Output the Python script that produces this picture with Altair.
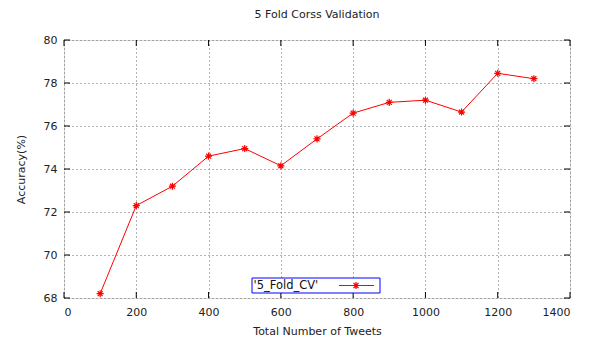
import altair as alt
import pandas as pd

tweets = [100, 200, 300, 400, 500, 600, 700, 800, 900, 1000, 1100, 1200, 1300]
accuracy = [68.2, 72.3, 73.2, 74.6, 74.95, 74.15, 75.4, 76.6, 77.1, 77.2, 76.65, 78.45, 78.2]
x_ticks = [0, 200, 400, 600, 800, 1000, 1200, 1400]
y_ticks = [68, 70, 72, 74, 76, 78, 80]
series_name = "'5_Fold_CV'"

W, H = 506, 258
FONT = "DejaVu Sans"
RED = "#ff0000"
STAR = "M-1,0L1,0M0,-1L0,1M-0.7,-0.7L0.7,0.7M-0.7,0.7L0.7,-0.7"

df = pd.DataFrame({"tweets": tweets, "acc": accuracy})
xt = pd.DataFrame({"v": x_ticks})
yt = pd.DataFrame({"v": y_ticks})

xs = alt.Scale(domain=[0, 1400], nice=False, zero=False)
ys = alt.Scale(domain=[68, 80], nice=False, zero=False)

xaxis = alt.Axis(values=x_ticks, format="d", grid=True, gridDash=[1, 3], gridColor="#666666",
                 gridOpacity=1, ticks=False, domain=False, labelFont=FONT, labelFontSize=11,
                 labelColor="#222222", labelPadding=8, title="Total Number of Tweets",
                 titleFont=FONT, titleFontSize=11, titleFontWeight="normal",
                 titleColor="#222222", titlePadding=8)
yaxis = alt.Axis(values=y_ticks, format="d", grid=True, gridDash=[1, 3], gridColor="#666666",
                 gridOpacity=1, ticks=False, domain=False, labelFont=FONT, labelFontSize=11,
                 labelColor="#222222", labelPadding=7, title="Accuracy(%)",
                 titleFont=FONT, titleFontSize=11, titleFontWeight="normal",
                 titleColor="#222222", titlePadding=17)

line = alt.Chart(df).mark_line(color=RED, strokeWidth=1).encode(
    x=alt.X("tweets:Q", scale=xs, axis=xaxis),
    y=alt.Y("acc:Q", scale=ys, axis=yaxis),
)
pts = alt.Chart(df).mark_point(shape=STAR, color=RED, size=50, strokeWidth=1.2, filled=False,
                               opacity=1).encode(
    x=alt.X("tweets:Q", scale=xs),
    y=alt.Y("acc:Q", scale=ys),
)

TL = 6
tick_bottom = alt.Chart(xt).mark_rule(color="black").encode(
    x=alt.X("v:Q", scale=xs), y=alt.value(H), y2=alt.value(H - TL))
tick_top = alt.Chart(xt).mark_rule(color="black").encode(
    x=alt.X("v:Q", scale=xs), y=alt.value(0), y2=alt.value(TL))
tick_left = alt.Chart(yt).mark_rule(color="black").encode(
    y=alt.Y("v:Q", scale=ys), x=alt.value(0), x2=alt.value(TL))
tick_right = alt.Chart(yt).mark_rule(color="black").encode(
    y=alt.Y("v:Q", scale=ys), x=alt.value(W), x2=alt.value(W - TL))

leg_df = pd.DataFrame({"name": [series_name]})
leg_box = alt.Chart(leg_df).mark_rect(fill="white", stroke="#0000ff", strokeWidth=1).encode(
    x=alt.value(188), x2=alt.value(316), y=alt.value(238), y2=alt.value(253))
leg_text = alt.Chart(leg_df).mark_text(align="left", baseline="middle", font=FONT,
                                       fontSize=11.5, color="#111111").encode(
    x=alt.value(189.5), y=alt.value(245.5), text="name:N")
leg_line = alt.Chart(leg_df).mark_rule(color=RED, strokeWidth=1).encode(
    x=alt.value(275), x2=alt.value(310), y=alt.value(245.5))
leg_pt = alt.Chart(leg_df).mark_point(shape=STAR, color=RED, size=50, strokeWidth=1.2,
                                      filled=False, opacity=1).encode(
    x=alt.value(292), y=alt.value(245.5))

chart = alt.layer(
    line, pts, tick_bottom, tick_top, tick_left, tick_right,
    leg_box, leg_text, leg_line, leg_pt
).properties(
    width=W, height=H,
    title=alt.Title("5 Fold Corss Validation", font=FONT, fontSize=11,
                    fontWeight="normal", color="#222222", offset=14),
    autosize=alt.AutoSizeParams(type="none"),
    padding={"left": 56, "top": 32, "right": 15, "bottom": 40},
).configure_view(stroke="black", strokeWidth=1).configure(background="white")

chart.save("out.html", embed_options={"renderer": "svg", "actions": False})
